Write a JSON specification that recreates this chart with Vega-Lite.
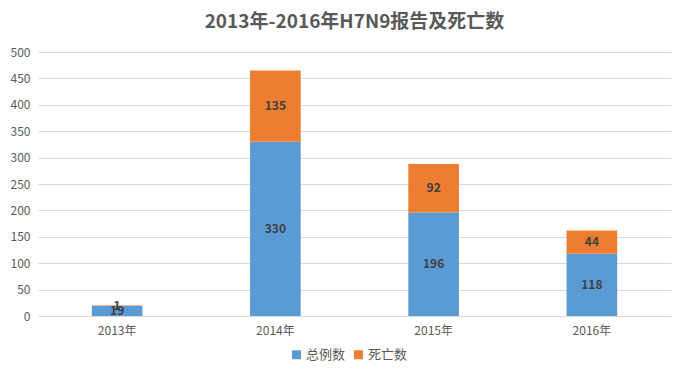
{
  "$schema": "https://vega.github.io/schema/vega-lite/v6.json",
  "autosize": {"type": "none"},
  "width": 633,
  "height": 264,
  "padding": {"left": 38, "top": 52, "right": 15, "bottom": 64},
  "background": "white",
  "config": {
    "font": "Noto Sans CJK SC",
    "view": {"stroke": null}
  },
  "title": {
    "text": "2013年-2016年H7N9报告及死亡数",
    "fontSize": 19,
    "fontWeight": "bold",
    "color": "#595959",
    "anchor": "middle",
    "offset": 14
  },
  "data": {
    "values": [
      {"year": "2013年", "series": "总例数", "value": 19, "ord": 0},
      {"year": "2013年", "series": "死亡数", "value": 1, "ord": 1},
      {"year": "2014年", "series": "总例数", "value": 330, "ord": 0},
      {"year": "2014年", "series": "死亡数", "value": 135, "ord": 1},
      {"year": "2015年", "series": "总例数", "value": 196, "ord": 0},
      {"year": "2015年", "series": "死亡数", "value": 92, "ord": 1},
      {"year": "2016年", "series": "总例数", "value": 118, "ord": 0},
      {"year": "2016年", "series": "死亡数", "value": 44, "ord": 1}
    ]
  },
  "encoding": {
    "x": {
      "field": "year", "type": "nominal", "sort": null,
      "scale": {"paddingInner": 0.68, "paddingOuter": 0.34},
      "axis": {"title": null, "labelAngle": 0, "ticks": false, "domainColor": "#D9D9D9", "labelColor": "#595959", "labelFontSize": 12, "labelPadding": 9}
    },
    "y": {
      "field": "value", "type": "quantitative", "stack": "zero",
      "scale": {"domain": [0, 500]},
      "axis": {"title": null, "values": [0,50,100,150,200,250,300,350,400,450,500], "domain": false, "ticks": false, "gridColor": "#D9D9D9", "labelColor": "#595959", "labelFontSize": 12, "labelPadding": 8}
    },
    "order": {"field": "ord", "type": "quantitative"}
  },
  "layer": [
    {
      "mark": {"type": "bar"},
      "encoding": {
        "color": {
          "field": "series", "type": "nominal",
          "scale": {"domain": ["总例数", "死亡数"], "range": ["#5B9BD5", "#ED7D31"]},
          "legend": {"title": null, "orient": "none", "legendX": 252, "legendY": 296, "direction": "horizontal", "symbolType": "square", "symbolSize": 80, "symbolStrokeWidth": 0, "labelFontSize": 13, "labelColor": "#595959", "labelOffset": 3, "columnPadding": 6}
        }
      }
    },
    {
      "mark": {"type": "text", "fontWeight": "bold", "fontSize": 12, "color": "#404040"},
      "encoding": {
        "y": {"field": "value", "type": "quantitative", "stack": "zero", "bandPosition": 0.5},
        "text": {"field": "value", "type": "quantitative"}
      }
    }
  ]
}
